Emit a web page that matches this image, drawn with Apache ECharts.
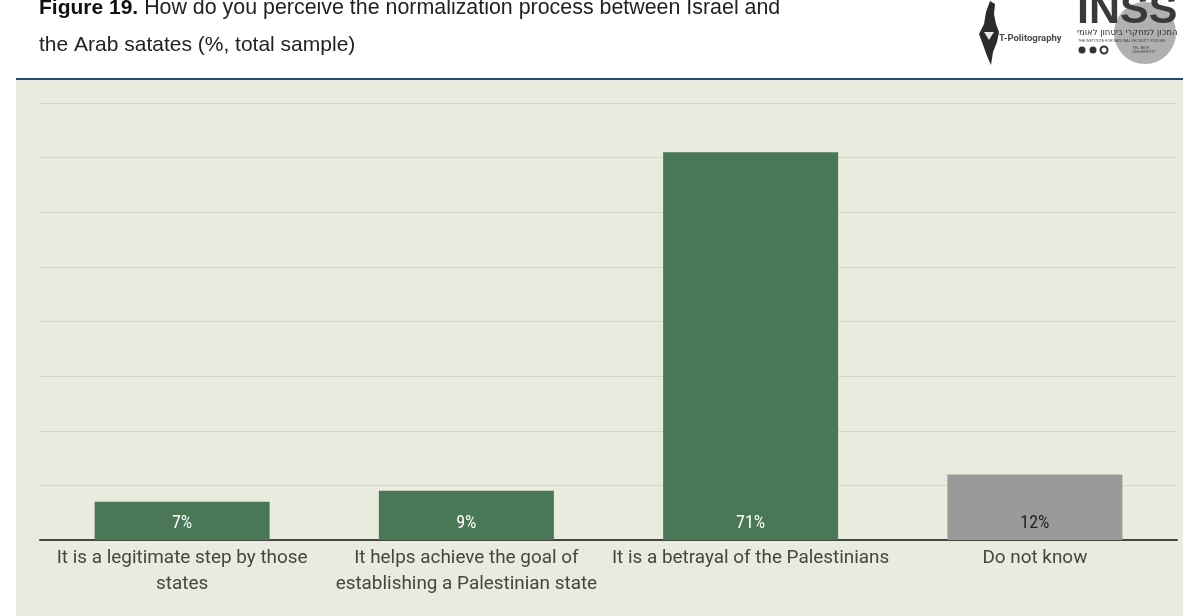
<!DOCTYPE html>
<html>
<head>
<meta charset="utf-8">
<style>html,body{margin:0;padding:0;background:#fff}#c{width:1183px;height:616px}</style>
<script src="https://cdn.jsdelivr.net/npm/echarts@6/dist/echarts.min.js"></script>
</head>
<body>
<div id="c"></div>
<script>
const categories = [
  "It is a legitimate step by those\nstates",
  "It helps achieve the goal of\nestablishing a Palestinian state",
  "It is a betrayal of the Palestinians",
  "Do not know"
];
const values = [7, 9, 71, 12];
const barColors = ["#4a7856", "#4a7856", "#4a7856", "#9a9a9a"];
const labelColors = ["#ffffff", "#ffffff", "#ffffff", "#222222"];
const titleBold = "Figure 19.";
const titleLine1 = " How do you perceive the normalization process between Israel and";
const titleLine2 = "the Arab satates (%, total sample)";

const chart = echarts.init(document.getElementById('c'), null, {renderer: 'canvas'});
chart.setOption({
  animation: false,
  backgroundColor: '#ffffff',
  grid: {left: 40, right: 6, top: 103, bottom: 76, containLabel: false},
  xAxis: {
    type: 'category',
    data: categories,
    offset: 1,
    axisTick: {show: false},
    axisLine: {show: true, lineStyle: {color: '#44473f', width: 2}},
    axisLabel: {
      interval: 0, color: '#44473f', fontFamily: 'Roboto', fontSize: 18.9,
      lineHeight: 26, margin: 4, align: 'center'
    }
  },
  yAxis: {
    type: 'value', min: 0, max: 80, interval: 10,
    axisLabel: {show: false}, axisLine: {show: false}, axisTick: {show: false},
    splitLine: {show: true, lineStyle: {color: '#d2d8c8', width: 1}}
  },
  series: [{
    type: 'bar',
    barWidth: 175,
    z: 3,
    data: values.map((v, i) => ({
      value: v,
      itemStyle: {color: barColors[i]},
      label: {color: labelColors[i]}
    })),
    label: {
      show: true, position: 'insideBottom', distance: 8,
      fontFamily: 'Roboto Condensed, Roboto', fontSize: 18,
      formatter: p => p.value + '%'
    }
  }],
  graphic: [
    {type: 'rect', z: -10, silent: true, shape: {x: 16, y: 79, width: 1167, height: 537}, style: {fill: '#e8ebde'}},
    {type: 'rect', z: -9, silent: true, shape: {x: 16, y: 78, width: 1167, height: 2}, style: {fill: '#1f4e79'}},
    {type: 'text', z: 5, left: 39, top: -2, style: {
      rich: {b: {fontFamily: 'Liberation Sans', fontWeight: 'bold', fontSize: 21, fill: '#111'},
             r: {fontFamily: 'Liberation Sans', fontSize: 21.4, fill: '#222'}},
      text: '{b|' + titleBold + '}{r|' + titleLine1 + '}'
    }},
    {type: 'text', z: 5, left: 39, top: 35, style: {
      text: titleLine2, fontFamily: 'Liberation Sans', fontSize: 21, fill: '#222'
    }},
    // T-Politography logo
    {type: 'polygon', z: 5, shape: {points: [[990,1],[995,4],[994,14],[996,24],[999,32],[997,42],[993,52],[991,65],[987,56],[982,42],[979,34],[984,24],[986,12]]}, style: {fill: '#2b2b2b'}},
    {type: 'polygon', z: 6, shape: {points: [[984,32],[994,32],[989,40]]}, style: {fill: '#e8e8e8'}},
    {type: 'text', z: 5, left: 999, top: 34, style: {text: 'T-Politography', fontFamily: 'Roboto', fontWeight: 'bold', fontSize: 9.5, fill: '#4a4a4a'}},
    // INSS logo
    {type: 'circle', z: 4, shape: {cx: 1145, cy: 33, r: 31}, style: {fill: '#b0b0b0'}},
    {type: 'text', z: 5, left: 1077, top: -10, style: {text: 'INSS', fontFamily: 'Liberation Sans', fontWeight: 'bold', fontSize: 43, fill: '#3a3a3a'}},
    {type: 'text', z: 5, left: 1077, top: 28, style: {text: 'המכון למחקרי ביטחון לאומי', fontFamily: 'DejaVu Sans', fontSize: 8.5, fill: '#333'}},
    {type: 'text', z: 5, left: 1078, top: 39, style: {text: 'THE INSTITUTE FOR NATIONAL SECURITY STUDIES', fontFamily: 'Liberation Sans', fontSize: 3.5, fill: '#444'}},
    {type: 'circle', z: 5, shape: {cx: 1082, cy: 50, r: 3.5}, style: {fill: '#333'}},
    {type: 'circle', z: 5, shape: {cx: 1093, cy: 50, r: 3.5}, style: {fill: '#333'}},
    {type: 'circle', z: 5, shape: {cx: 1104, cy: 50, r: 3.5}, style: {fill: 'none', stroke: '#333', lineWidth: 2}},
    {type: 'text', z: 5, left: 1132, top: 46, style: {text: 'TEL AVIV\nUNIVERSITY', fontFamily: 'Liberation Sans', fontSize: 4, fill: '#444'}}
  ]
});
</script>
</body>
</html>
